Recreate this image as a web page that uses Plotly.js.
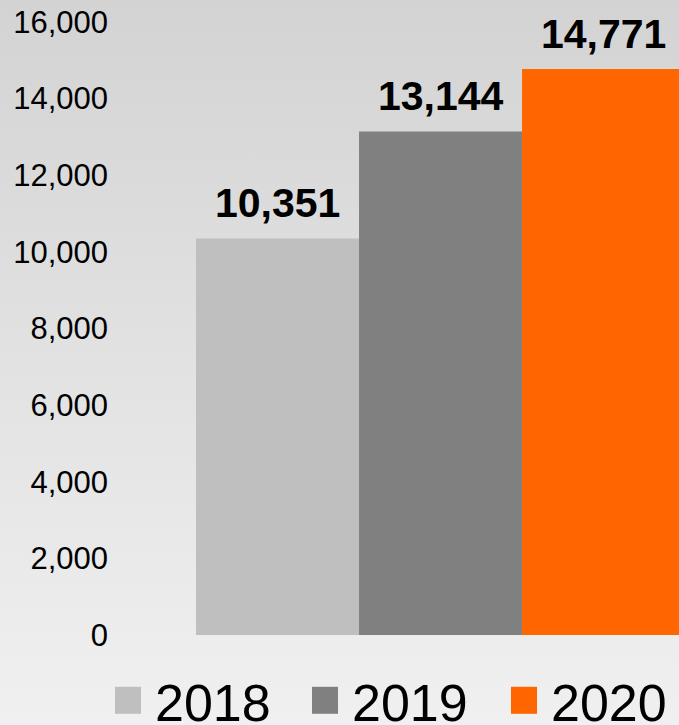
<!DOCTYPE html>
<html>
<head>
<meta charset="utf-8">
<script src="https://cdn.plot.ly/plotly-3.0.1.min.js"></script>
<style>
  html, body { margin:0; padding:0; }
  body { width:679px; height:725px; overflow:hidden;
         background: linear-gradient(to bottom, #d3d3d3 0%, #e2e2e2 50%, #f0f0f0 100%); }
  #chart { width:679px; height:725px; }
</style>
</head>
<body>
<div id="chart"></div>
<script>
var years = ['2018', '2019', '2020'];
var values = [10351, 13144, 14771];
var colors = ['#bfbfbf', '#808080', '#ff6600'];
var yTicks = [0, 2000, 4000, 6000, 8000, 10000, 12000, 14000, 16000];
var legendIds = ['legend', 'legend2', 'legend3'];
var legendX = [0.1694, 0.4595, 0.7526];

var FONT = 'Liberation Sans, Arial, sans-serif';

var traces = years.map(function (yr, i) {
  return {
    type: 'bar',
    name: yr,
    x: [i],
    y: [values[i]],
    width: [1],
    legend: legendIds[i],
    marker: { color: colors[i], line: { width: 0 } },
    hoverinfo: 'none'
  };
});

var annotations = years.map(function (yr, i) {
  return {
    x: i, y: values[i], xref: 'x', yref: 'y',
    text: '<b>' + values[i].toLocaleString('en-US') + '</b>',
    showarrow: false, yanchor: 'bottom', yshift: 10,
    font: { family: FONT, size: 41, color: '#000' }
  };
});

var layout = {
  width: 679, height: 725,
  margin: { l: 115, r: 0, t: 22, b: 90 },
  paper_bgcolor: 'rgba(0,0,0,0)',
  plot_bgcolor: 'rgba(0,0,0,0)',
  barmode: 'overlay',
  showlegend: true,
  font: { family: FONT, color: '#000' },
  xaxis: { type: 'linear', range: [-0.997, 2.463], visible: false, fixedrange: true },
  yaxis: {
    range: [0, 16000], tickvals: yTicks,
    ticktext: yTicks.map(function (v) { return v.toLocaleString('en-US'); }),
    showgrid: false, zeroline: false, showline: false, ticks: '',
    tickfont: { family: FONT, size: 31, color: '#000' }, ticklabelstandoff: 6
  },
  annotations: annotations
};

legendIds.forEach(function (id, i) {
  layout[id] = {
    orientation: 'h', xref: 'container', yref: 'container',
    x: legendX[i], xanchor: 'left', y: 0, yanchor: 'bottom',
    font: { family: FONT, size: 52, color: '#000' }, bgcolor: 'rgba(0,0,0,0)',
    itemclick: false, itemdoubleclick: false
  };
});

var SHIFT = ' translate(0,16)';
var BIG = 'M6,13.5H-21V-13.5H6Z';
function fixLegends() {
  // enlarge every legend symbol (kept at its own anchor, widened to the left)
  document.querySelectorAll('.legendpoints path').forEach(function (p) {
    if (!p.getAttribute('d')) return;
    if (p.getAttribute('d') !== BIG) p.setAttribute('d', BIG);
  });
  // nudge every legend box down once
  document.querySelectorAll('g').forEach(function (g) {
    var cls = g.getAttribute('class') || '';
    if (!/^legend\d*$/.test(cls.trim())) return;
    var tr = g.getAttribute('transform') || '';
    if (tr.slice(-SHIFT.length) !== SHIFT) g.setAttribute('transform', tr + SHIFT);
  });
}

var obs = new MutationObserver(function () { fixLegends(); });
obs.observe(document.body, { subtree: true, childList: true, attributes: true, attributeFilter: ['transform', 'd'] });

Plotly.newPlot('chart', traces, layout, { displayModeBar: false, staticPlot: true }).then(function () {
  fixLegends();
  [0, 20, 50, 100, 200, 400, 800, 1500].forEach(function (ms) { setTimeout(fixLegends, ms); });
});
</script>
</body>
</html>
